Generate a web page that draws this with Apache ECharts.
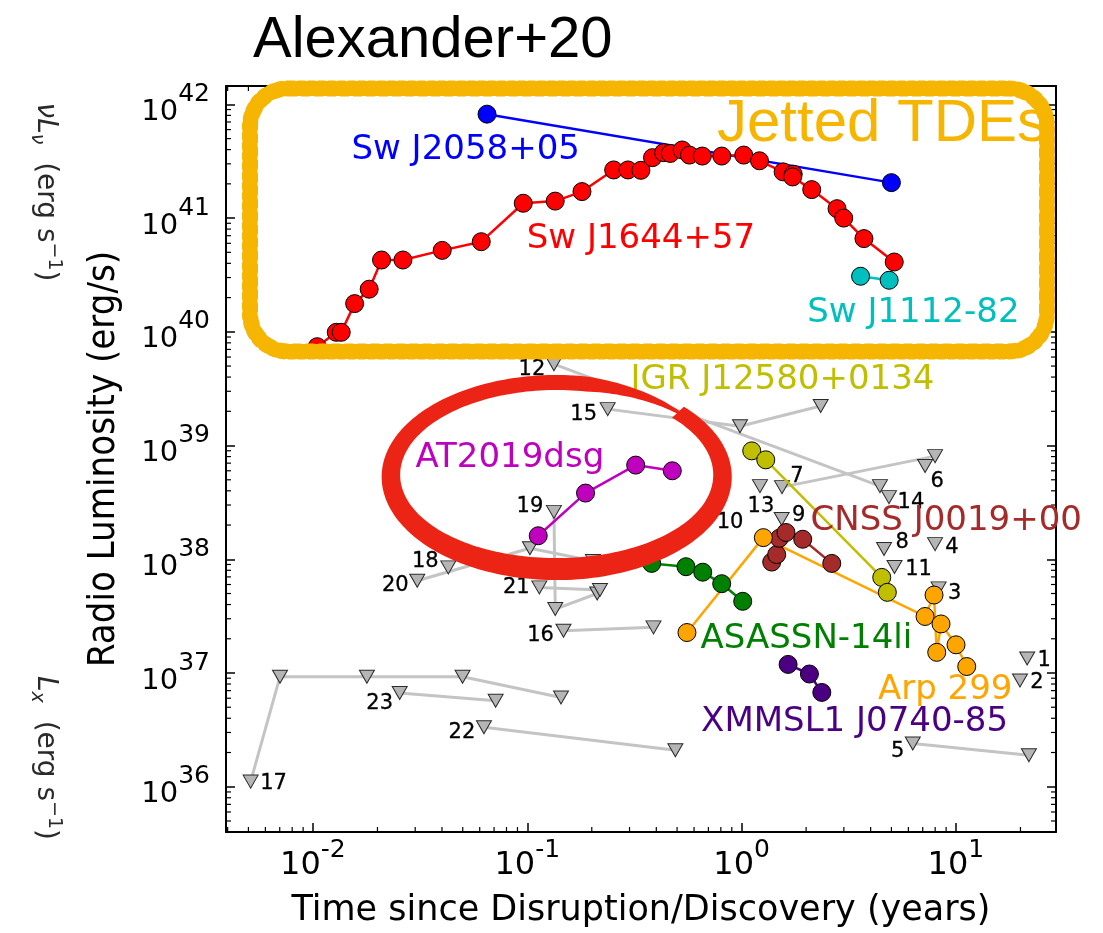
<!DOCTYPE html>
<html>
<head>
<meta charset="utf-8">
<title>Alexander+20</title>
<script src="https://cdn.jsdelivr.net/npm/echarts@6/dist/echarts.min.js"></script>
<style>
  html, body { margin: 0; padding: 0; background: #ffffff; }
  #chart { width: 1103px; height: 933px; }
</style>
</head>
<body>
<div id="chart"></div>
<script>
// ---- axis ranges (years, erg/s) ----
const X_RANGE = [0.00393, 29.3];
const Y_RANGE = [4.0e35, 1.45e42];

// ---- detected sources: [time (yr), radio luminosity (erg/s)] ----
const swJ2058 = [[0.0649, 8.2e41], [5.0, 2.05e41]];
const swJ1644 = [
  [0.01047, 7.4e39], [0.01285, 9.9e39], [0.01355, 9.9e39], [0.01565, 1.77e40],
  [0.0183, 2.37e40], [0.0209, 4.28e40], [0.0263, 4.28e40], [0.0401, 5.2e40],
  [0.061, 6.2e40], [0.0958, 1.35e41], [0.135, 1.41e41], [0.180, 1.71e41],
  [0.253, 2.65e41], [0.295, 2.65e41], [0.339, 2.63e41], [0.384, 3.4e41],
  [0.4325, 3.76e41], [0.465, 3.7e41], [0.528, 3.97e41], [0.571, 3.58e41],
  [0.656, 3.51e41], [0.808, 3.51e41], [1.023, 3.58e41], [1.212, 3.19e41],
  [1.562, 2.55e41], [1.741, 2.43e41], [1.73, 2.3e41], [2.124, 1.78e41],
  [2.788, 1.21e41], [2.995, 1.0e41], [3.722, 6.6e40], [5.154, 4.11e40]
];
const swJ1112 = [[3.59, 3.08e40], [4.88, 2.84e40]];
const at2019dsg = [[0.1125, 1.61e38], [0.187, 3.82e38], [0.3205, 6.73e38], [0.475, 6.0e38]];
const igrJ12580 = [[1.115, 8.98e38], [1.296, 7.49e38], [4.507, 6.93e37], [4.786, 5.12e37]];
const cnssJ0019 = [[1.382, 9.45e37], [1.458, 1.10e38], [1.499, 1.53e38], [1.611, 1.72e38], [1.928, 1.50e38], [2.634, 9.2e37]];
const asassn14li = [[0.3806, 9.2e37], [0.5503, 8.6e37], [0.6585, 7.7e37], [0.8074, 6.1e37], [1.012, 4.27e37]];
const arp299 = [[0.556, 2.27e37], [1.263, 1.55e38], [7.175, 3.14e37], [7.903, 4.85e37], [8.136, 1.52e37], [8.52, 2.70e37], [10.01, 1.77e37], [11.23, 1.14e37]];
const xmmsl1J0740 = [[1.648, 1.19e37], [2.072, 9.8e36], [2.367, 6.75e36]];

// ---- radio upper limits, numbered sources 1..23 ----
const ul1 = [[21.5, 1.34e37]];
const ul2 = [[19.9, 8.6e36]];
const ul3 = [[8.3, 5.55e37]];
const ul4 = [[7.99, 1.36e38]];
const ul5 = [[6.29, 2.40e36], [21.9, 1.89e36]];
const ul6 = [[7.18, 6.6e38]];
const ul7 = [[1.543, 4.31e38], [7.99, 8.07e38]];
const ul8 = [[4.62, 1.23e38]];
const ul9 = [[1.538, 2.26e38]];
const ul10 = [[0.675, 2.12e38]];
const ul11 = [[5.17, 8.54e37]];
const ul12 = [[0.1332, 5.19e39], [4.42, 4.40e38]];
const ul13 = [[1.218, 4.40e38]];
const ul14 = [[4.87, 3.52e38]];
const ul15 = [[0.2372, 2.09e39], [0.983, 1.48e39], [2.339, 2.23e39]];
const ul16 = [[0.1476, 2.35e37], [0.388, 2.52e37]];
const ul17 = [[0.00512, 1.11e36], [0.00702, 9.28e36], [0.01786, 9.28e36], [0.0499, 9.28e36], [0.1437, 6.1e36]];
const ul18 = [[0.0428, 8.49e37]];
const ul19 = [[0.1332, 2.61e38], [0.1351, 3.65e37], [0.212, 5.0e37]];
const ul20 = [[0.03067, 6.47e37], [0.1029, 1.25e38], [0.2025, 9.64e37]];
const ul21 = [[0.1138, 5.66e37], [0.2184, 5.36e37]];
const ul22 = [[0.0628, 3.33e36], [0.491, 2.09e36]];
const ul23 = [[0.0254, 6.67e36], [0.0712, 5.71e36]];
const upperLimitSets = [ul1, ul2, ul3, ul4, ul5, ul6, ul7, ul8, ul9, ul10, ul11, ul12,
                        ul13, ul14, ul15, ul16, ul17, ul18, ul19, ul20, ul21, ul22, ul23];
const upperLimitIds = ['1','2','3','4','5','6','7','8','9','10','11','12',
                       '13','14','15','16','17','18','19','20','21','22','23'];

// ---- source name labels: [left edge (yr), centre (erg/s)] ----
const sourceNames = ['Sw J2058+05', 'Sw J1644+57', 'Sw J1112-82', 'IGR J12580+0134', 'AT2019dsg',
                     'CNSS J0019+00', 'ASASSN-14li', 'Arp 299', 'XMMSL1 J0740-85'];
const sourceNameAnchors = [[0.01504, 3.94e41], [0.0989, 6.51e40], [2.013, 1.457e40], [0.3014, 3.79e39],
                           [0.02992, 7.75e38], [2.085, 2.145e38], [0.6395, 1.99e37], [4.302, 7.09e36],
                           [0.6437, 3.67e36]];

// ---- styling ----
const SANS = "'DejaVu Sans', sans-serif";
const HELV = "'Liberation Sans', Arial, sans-serif";
const CONDENSED = "'DejaVu Sans Condensed', 'DejaVu Sans', sans-serif";
const GOLD = '#f6b500';
const sourceColors = ['#0000ff', '#ff0000', '#00bfbf', '#bfbf00', '#bf00bf', '#a52a2a', '#008000', '#ffa500', '#4b0082'];
const detectedSets = [swJ2058, swJ1644, swJ1112, igrJ12580, at2019dsg, cnssJ0019, asassn14li, arp299, xmmsl1J0740];
// number label offset (px) from the first triangle of each limit track
const limitLabelOffset = [[17, 2], [17, 2], [16, 5], [17, 3], [-15, 8], [12, 15], [15, -11], [18, -7],
                          [17, -3], [25, 0], [24, 2], [-22, 5], [1, 20], [22, 5], [-24, 5], [-23, 5],
                          [23, 2], [-23, -6], [-24, -5], [-22, 5], [-23, 0], [-22, 5], [-20, 11]];

function powerLabel(v) {
  const e = Math.log10(v);
  const r = Math.round(e);
  if (Math.abs(e - r) > 1e-6) return '';
  return '{b|10}{s|' + r + '}';
}

// minor ticks at 2..9 x 10^n
const minorX = [], minorY = [];
for (let e = -3; e <= 1; e++) for (let m = 2; m <= 9; m++) {
  const v = m * Math.pow(10, e);
  if (v > X_RANGE[0] && v < X_RANGE[1]) minorX.push(v);
}
for (let e = 35; e <= 42; e++) for (let m = 2; m <= 9; m++) {
  const v = m * Math.pow(10, e);
  if (v > Y_RANGE[0] && v < Y_RANGE[1]) minorY.push(v);
}

function xAxisDef(position, withLabels) {
  return {
    type: 'log', logBase: 10, min: X_RANGE[0], max: X_RANGE[1], position: position,
    splitLine: { show: false }, minorTick: { show: false },
    axisLine: { show: true, onZero: false, lineStyle: { color: '#000', width: 2 } },
    axisTick: { show: true, inside: true, length: 9, lineStyle: { color: '#000', width: 1.5 } },
    axisLabel: withLabels ? {
      show: true, interval: 0, margin: 6, formatter: powerLabel,
      rich: {
        b: { fontFamily: SANS, fontSize: 32, color: '#000', lineHeight: 44, verticalAlign: 'bottom' },
        s: { fontFamily: SANS, fontSize: 25, color: '#000', lineHeight: 26, verticalAlign: 'top' }
      }
    } : { show: false },
    name: withLabels ? 'Time since Disruption/Discovery (years)' : '',
    nameLocation: 'middle', nameGap: 61,
    nameTextStyle: { fontFamily: SANS, fontSize: 35, color: '#000' }
  };
}
function yAxisDef(position, withLabels) {
  return {
    type: 'log', logBase: 10, min: Y_RANGE[0], max: Y_RANGE[1], position: position,
    splitLine: { show: false }, minorTick: { show: false },
    axisLine: { show: true, onZero: false, lineStyle: { color: '#000', width: 2 } },
    axisTick: { show: true, inside: true, length: 9, lineStyle: { color: '#000', width: 1.5 } },
    axisLabel: withLabels ? {
      show: true, interval: 0, margin: 16, formatter: powerLabel,
      rich: {
        b: { fontFamily: SANS, fontSize: 29, color: '#000', lineHeight: 45, verticalAlign: 'bottom' },
        s: { fontFamily: SANS, fontSize: 25, color: '#000', lineHeight: 26, verticalAlign: 'top' }
      }
    } : { show: false },
    name: withLabels ? 'Radio Luminosity (erg/s)' : '',
    nameLocation: 'middle', nameRotate: 90, nameGap: 103,
    nameTextStyle: { fontFamily: CONDENSED, fontSize: 38, color: '#000' }
  };
}

const series = [];

// grey upper-limit tracks
upperLimitSets.forEach(function (pts, k) {
  series.push({
    type: 'line', name: 'limit ' + upperLimitIds[k], data: pts,
    xAxisIndex: 0, yAxisIndex: 0, z: 3, silent: true,
    symbol: 'triangle', symbolRotate: 180, symbolSize: [15, 13], showAllSymbol: true,
    lineStyle: { color: '#c4c4c4', width: 3 },
    itemStyle: { color: '#b5b5b5', borderColor: '#2a2a2a', borderWidth: 1 }
  });
});
// their number labels
series.push({
  type: 'scatter', name: 'limit ids', xAxisIndex: 0, yAxisIndex: 0, z: 6, silent: true,
  symbolSize: 1, itemStyle: { color: 'rgba(0,0,0,0)', opacity: 1 },
  data: upperLimitSets.map(function (pts, k) {
    return {
      value: pts[0],
      label: { show: true, position: 'inside', formatter: upperLimitIds[k], offset: limitLabelOffset[k],
               fontFamily: SANS, fontSize: 21, color: '#000', opacity: 1,
               textBorderColor: '#000', textBorderWidth: 0.3 }
    };
  })
});

// detected light curves
detectedSets.forEach(function (pts, k) {
  series.push({
    type: 'line', name: sourceNames[k], data: pts,
    xAxisIndex: 0, yAxisIndex: 0, z: 4, silent: true,
    symbol: 'circle', symbolSize: 18, showAllSymbol: true,
    lineStyle: { color: sourceColors[k], width: 2.5 },
    itemStyle: { color: sourceColors[k], borderColor: '#000', borderWidth: 1 }
  });
});

// source name annotations
series.push({
  type: 'scatter', name: 'source names', xAxisIndex: 0, yAxisIndex: 0, z: 6, silent: true,
  symbolSize: 1, itemStyle: { color: 'rgba(0,0,0,0)', opacity: 1 }, clip: false,
  data: sourceNameAnchors.map(function (p, k) {
    return {
      value: p,
      label: { show: true, position: 'right', distance: 0, formatter: sourceNames[k],
               fontFamily: SANS, fontSize: 34, color: sourceColors[k], opacity: 1 }
    };
  })
});

// minor ticks on all four sides
series.push({
  type: 'custom', name: 'minor ticks', xAxisIndex: 0, yAxisIndex: 0, z: 5, silent: true, clip: false,
  data: [[1, 1e38]],
  renderItem: function (params, api) {
    const cs = params.coordSys;
    const left = cs.x, right = cs.x + cs.width, top = cs.y, bottom = cs.y + cs.height;
    const st = { stroke: '#000', lineWidth: 1.2 };
    const kids = [];
    minorX.forEach(function (v) {
      const px = api.coord([v, 1e38])[0];
      kids.push({ type: 'line', shape: { x1: px, y1: bottom, x2: px, y2: bottom - 5 }, style: st });
      kids.push({ type: 'line', shape: { x1: px, y1: top, x2: px, y2: top + 5 }, style: st });
    });
    minorY.forEach(function (v) {
      const py = api.coord([1, v])[1];
      kids.push({ type: 'line', shape: { x1: left, y1: py, x2: left + 5, y2: py }, style: st });
      kids.push({ type: 'line', shape: { x1: right, y1: py, x2: right - 5, y2: py }, style: st });
    });
    return { type: 'group', children: kids };
  }
});

// hand-drawn ring around AT2019dsg
function ringPoints() {
  const cx = 556.7, cy = 475.8, rx = 165.8, ry = 93.3;
  const t0 = -43 * Math.PI / 180, t1 = 322 * Math.PI / 180;
  const N = 220, outer = [], inner = [];
  for (let i = 0; i <= N; i++) {
    const t = t0 + (t1 - t0) * i / N;
    const deg = t * 180 / Math.PI;
    let w = 18.5 + 3.5 * Math.sin(t);
    if (deg > 280) w *= Math.max(0.18, 1 - (deg - 280) / 40 * 0.85);
    outer.push([cx + (rx + w / 2) * Math.cos(t), cy + (ry + w / 2) * Math.sin(t)]);
    inner.push([cx + (rx - w / 2) * Math.cos(t), cy + (ry - w / 2) * Math.sin(t)]);
  }
  return outer.concat(inner.reverse());
}

const sideRich = {
  i: { fontFamily: SANS, fontStyle: 'italic', fontSize: 28, fill: '#2a2a2a', lineHeight: 36, verticalAlign: 'middle' },
  n: { fontFamily: SANS, fontSize: 28, fill: '#2a2a2a', lineHeight: 36, verticalAlign: 'middle' },
  d: { fontFamily: SANS, fontStyle: 'italic', fontSize: 19, fill: '#2a2a2a', lineHeight: 17, verticalAlign: 'bottom' },
  u: { fontFamily: SANS, fontSize: 19, fill: '#2a2a2a', lineHeight: 17, verticalAlign: 'top' }
};

const graphic = [
  { type: 'text', left: 253, top: 12, z: 20, silent: true,
    style: { text: 'Alexander+20', fontFamily: HELV, fontSize: 58, fill: '#000' } },
  // Jetted TDEs box
  { type: 'rect', z: 20, silent: true,
    shape: { x: 250, y: 88.5, width: 797, height: 263, r: 38 },
    style: { fill: 'none', stroke: GOLD, lineWidth: 15 } },
  { type: 'rect', z: 20, silent: true,
    shape: { x: 244, y: 82.5, width: 809, height: 275, r: 44 },
    style: { fill: 'none', stroke: GOLD, lineWidth: 4, lineDash: [7, 3] } },
  { type: 'rect', z: 20, silent: true,
    shape: { x: 256, y: 94.5, width: 785, height: 251, r: 32 },
    style: { fill: 'none', stroke: GOLD, lineWidth: 4, lineDash: [9, 4] } },
  { type: 'text', x: 717, y: 124, z: 20, silent: true,
    style: { text: 'Jetted TDEs', fontFamily: HELV, fontSize: 60, fill: GOLD, verticalAlign: 'middle' } },
  // red ring
  { type: 'polygon', z: 20, silent: true,
    shape: { points: ringPoints() },
    style: { fill: '#ec2415' } },
  // side labels of neighbouring panels
  { type: 'text', x: 45, y: 192, rotation: -Math.PI / 2, z: 20, silent: true,
    style: { text: '{i|νL}{d|ν}{n|  (erg s}{u|−1}{n|)}', align: 'center', verticalAlign: 'middle', rich: sideRich } },
  { type: 'text', x: 45, y: 758, rotation: -Math.PI / 2, z: 20, silent: true,
    style: { text: '{i|L}{d|x}{n|  (erg s}{u|−1}{n|)}', align: 'center', verticalAlign: 'middle', rich: sideRich } }
];

const chart = echarts.init(document.getElementById('chart'), null, { renderer: 'canvas', width: 1103, height: 933 });
chart.setOption({
  animation: false,
  backgroundColor: '#ffffff',
  grid: { left: 226, right: 47, top: 86, bottom: 100, containLabel: false },
  xAxis: [xAxisDef('bottom', true), xAxisDef('top', false)],
  yAxis: [yAxisDef('left', true), yAxisDef('right', false)],
  series: series,
  graphic: graphic
});
</script>
</body>
</html>
